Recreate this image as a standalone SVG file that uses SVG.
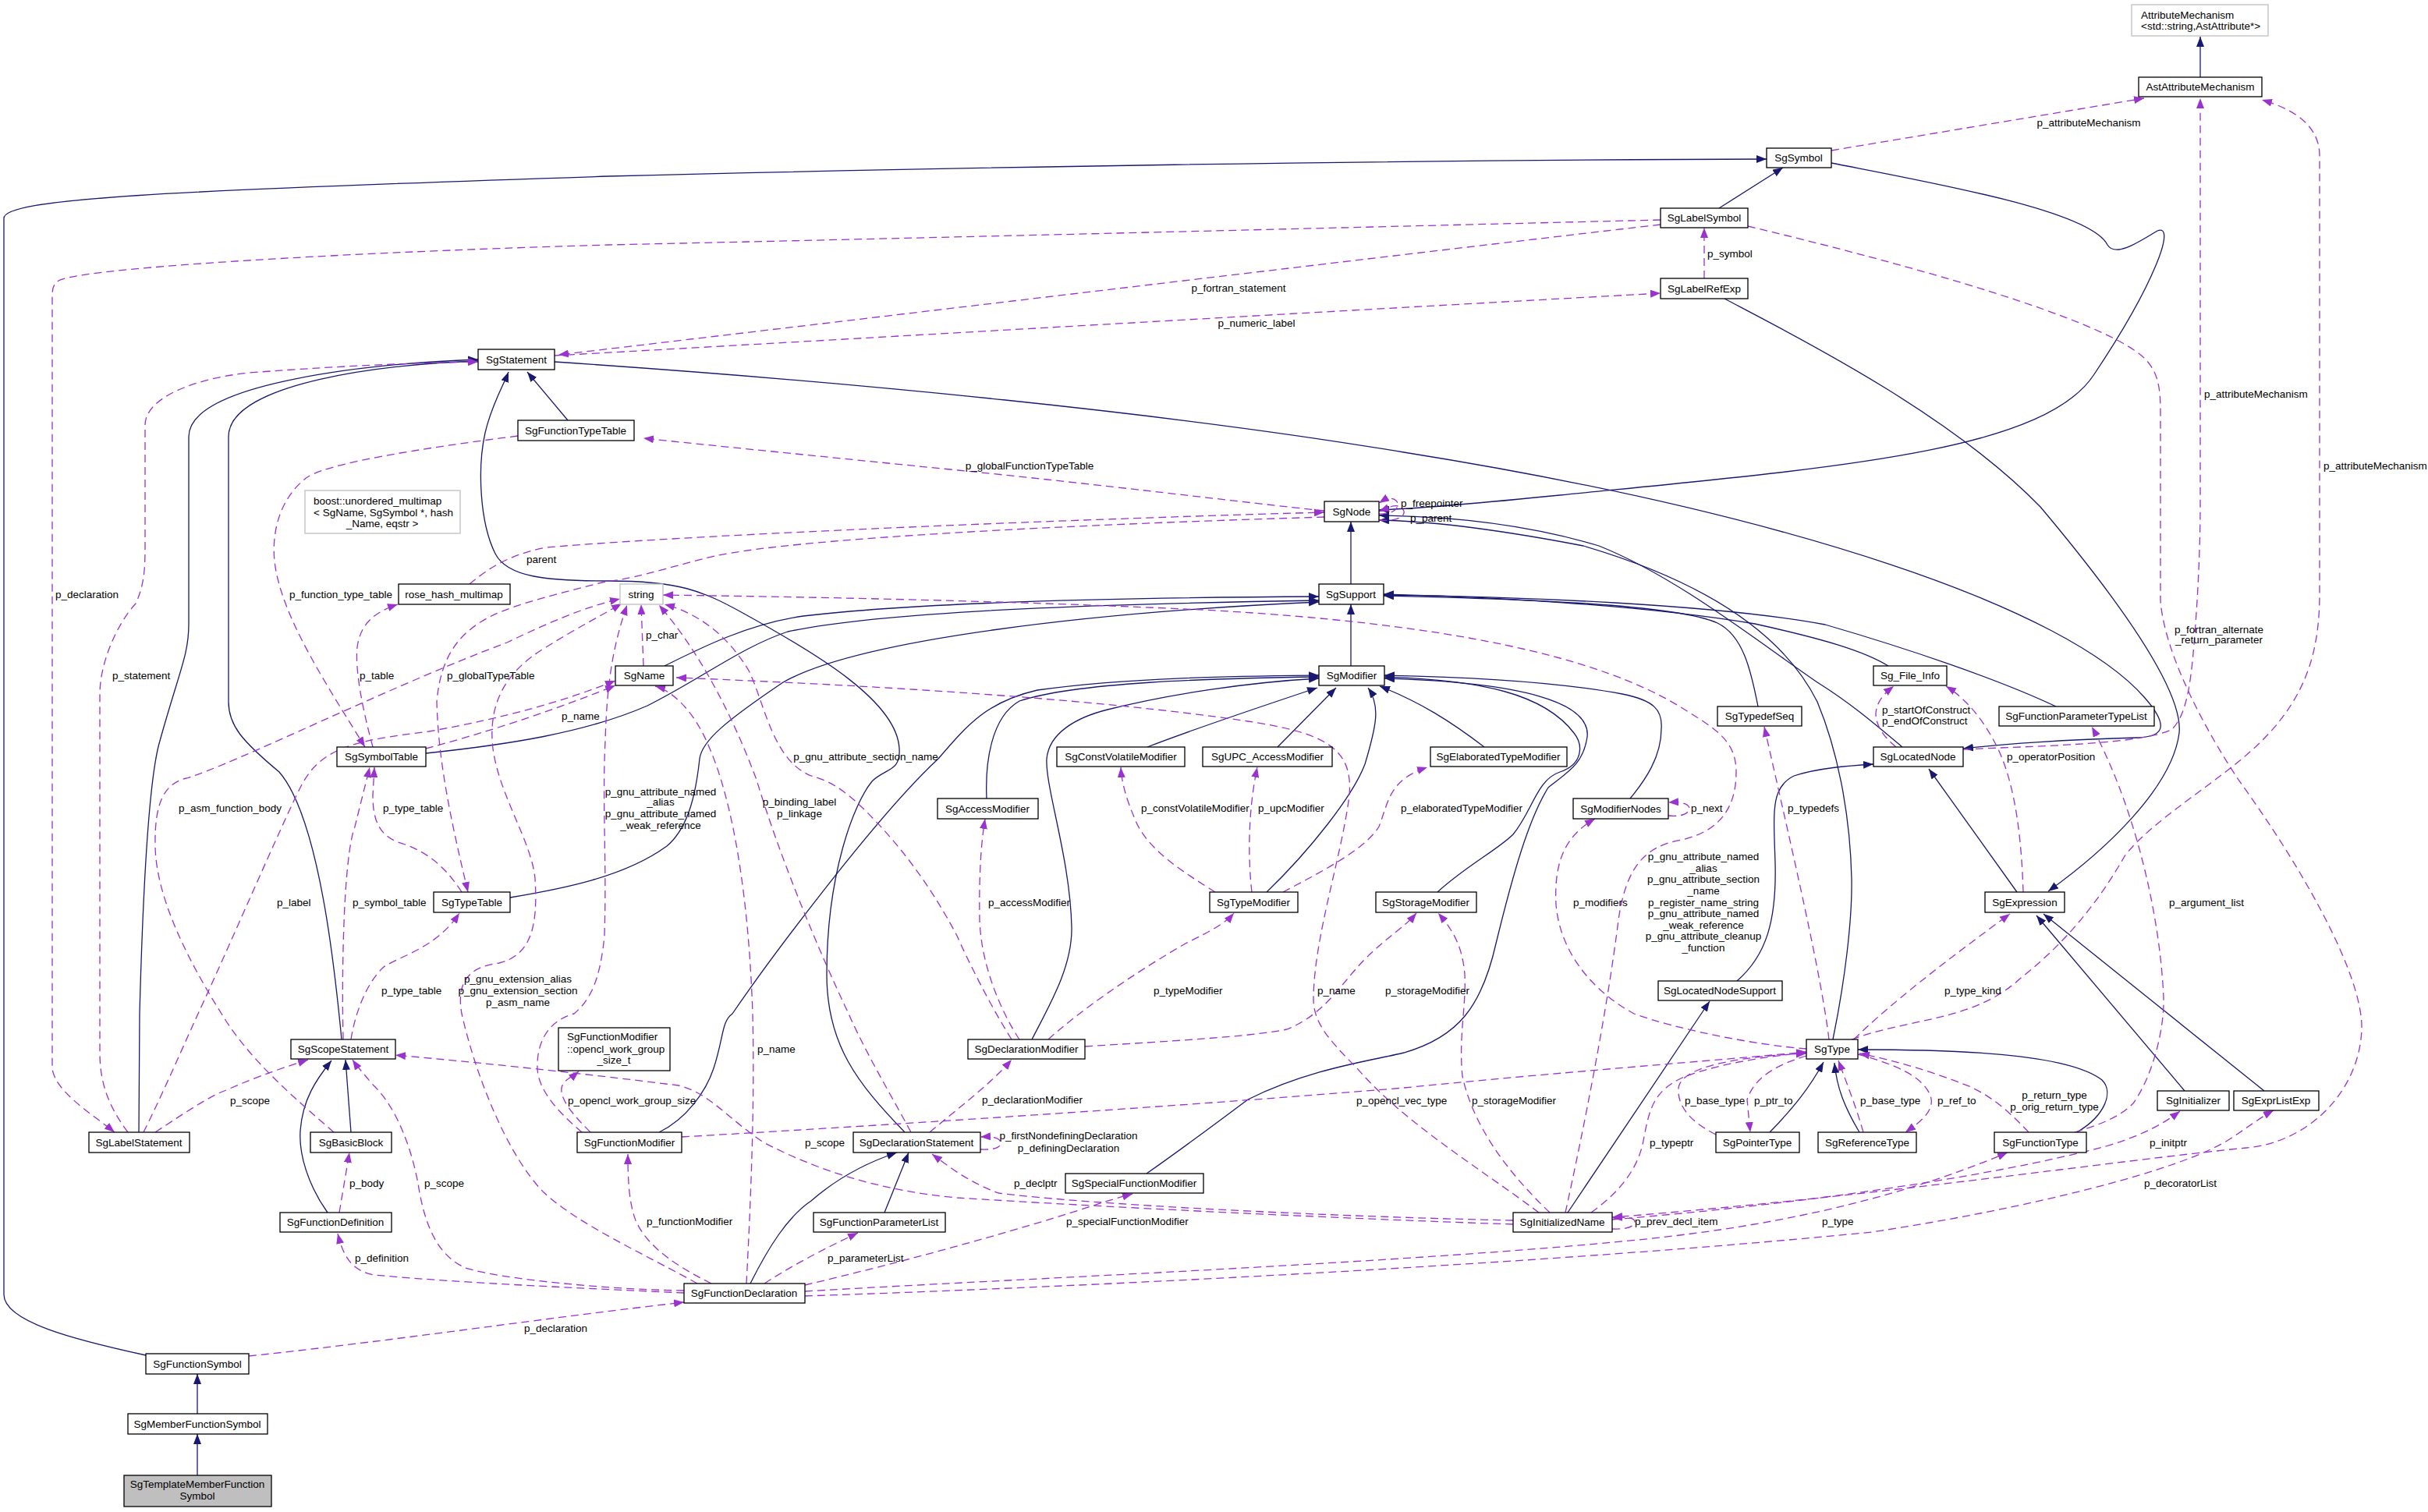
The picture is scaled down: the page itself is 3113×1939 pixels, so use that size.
<svg xmlns="http://www.w3.org/2000/svg" width="3113" height="1939" viewBox="0 0 3113 1939">
<style>
text{font-family:"Liberation Sans",Arial,sans-serif;font-size:13.5px;fill:#000}
.n rect{fill:#fff;stroke:#000;stroke-width:1.3}
.g rect{fill:#fff;stroke:#bfbfbf;stroke-width:1.3}
.h rect{fill:#bfbfbf;stroke:#000;stroke-width:1.3}
.n text,.g text,.h text{text-anchor:middle}
.i{fill:none;stroke:#191970;stroke-width:1.3;marker-end:url(#an)}
.c{fill:none;stroke:#9a32cd;stroke-width:1.3;stroke-dasharray:10,6;marker-end:url(#ap)}
.m{text-anchor:middle}
</style>
<defs>
<marker id="an" markerWidth="14" markerHeight="10" refX="13" refY="5" orient="auto" markerUnits="userSpaceOnUse"><path d="M0,0 L13,5 L0,10 z" fill="#191970"/></marker>
<marker id="ap" markerWidth="14" markerHeight="10" refX="13" refY="5" orient="auto" markerUnits="userSpaceOnUse"><path d="M0,0 L13,5 L0,10 z" fill="#9a32cd"/></marker>
</defs>
<rect width="3113" height="1939" fill="#fff"/>
<g id="edges">
<path class="i" d="M2821,99 L2821,47"/>
<path class="i" d="M2204,267 L2286,215"/>
<path class="i" d="M187,1738 C95,1718 5,1695 5,1660 L5,280 C5,255 200,245 780,226 C1200,215 1800,205 2265,204"/>
<path class="i" d="M253,1813 L253,1762"/>
<path class="i" d="M253,1892 L253,1839"/>
<path class="i" d="M2348,209 C2480,235 2680,270 2702,314 C2712,330 2740,312 2766,296 C2790,286 2765,360 2685,480 C2620,580 2350,600 2000,635 C1900,645 1820,652 1768,654"/>
<path class="i" d="M2211,383 C2300,430 2500,530 2616,650 C2700,750 2800,880 2794,940 C2785,1010 2700,1090 2626,1143"/>
<path class="i" d="M711,464 C1100,490 1500,530 1800,580 C2300,660 2650,780 2750,895 C2785,935 2770,945 2740,946 C2650,948 2560,955 2517,960"/>
<path class="i" d="M728,539 L676,477"/>
<path class="i" d="M438,1333 C430,1250 410,1050 358,990 C310,950 293,930 293,900 L293,560 C293,490 500,466 613,463"/>
<path class="i" d="M178,1452 L179,1300 C183,1150 190,1000 205,950 C230,860 242,840 242,800 L242,560 C242,490 480,466 613,461"/>
<path class="i" d="M1160,1452 C1100,1390 1060,1340 1060,1250 C1060,1120 1095,1030 1118,1002 C1135,985 1155,990 1153,960 C1150,900 1050,840 954,787 C900,757 870,745 780,745 C700,745 650,740 635,710 C615,670 612,600 622,555 C630,520 645,495 652,477"/>
<path class="i" d="M1732,749 L1732,669"/>
<path class="i" d="M1732,854 L1732,775"/>
<path class="i" d="M852,854 C900,830 960,800 1030,790 C1200,770 1500,766 1691,765"/>
<path class="i" d="M546,966 C650,955 750,940 830,905 C900,870 950,830 1010,810 C1150,780 1500,773 1691,770"/>
<path class="i" d="M654,1151 C720,1140 800,1125 855,1085 C885,1060 893,1010 897,973 C900,950 930,925 1004,875 C1100,820 1400,785 1691,772"/>
<path class="i" d="M2254,906 C2245,860 2235,815 2202,799 C2150,775 1950,768 1774,764"/>
<path class="i" d="M2421,854 C2390,835 2340,820 2250,800 C2100,775 1900,765 1774,762"/>
<path class="i" d="M2636,906 C2560,870 2440,830 2340,801 C2200,775 1950,765 1774,763"/>
<path class="i" d="M1265,1024 C1263,980 1270,920 1307,899 C1380,875 1550,870 1691,868"/>
<path class="i" d="M1471,958 C1530,935 1620,905 1689,882"/>
<path class="i" d="M1638,958 L1713,882"/>
<path class="i" d="M1903,958 C1860,925 1820,900 1769,880"/>
<path class="i" d="M1624,1144 C1680,1090 1735,1020 1750,980 C1765,930 1770,905 1754,882"/>
<path class="i" d="M1843,1144 C1880,1110 1920,1090 1940,1070 C1965,1040 1970,1000 2000,990 C2030,980 2030,955 2018,940 C1980,890 1900,872 1775,868"/>
<path class="i" d="M2090,1024 C2110,1000 2130,970 2130,935 C2132,910 2120,898 2080,890 C2000,875 1880,868 1775,866"/>
<path class="i" d="M1323,1333 C1345,1290 1375,1240 1374,1189 C1372,1100 1340,1010 1342,973 C1345,940 1380,920 1420,910 C1500,890 1600,875 1691,870"/>
<path class="i" d="M845,1452 C880,1435 905,1400 915,1370 C928,1330 925,1310 939,1300 C980,1240 1120,1050 1203,973 C1240,930 1265,900 1330,885 C1450,868 1600,867 1691,866"/>
<path class="i" d="M1470,1505 C1520,1470 1560,1440 1600,1410 C1680,1370 1760,1360 1800,1350 C1870,1330 1900,1290 1918,1210 C1940,1120 1960,1050 1985,1010 C2010,990 2030,980 2035,945 C2040,900 1950,875 1775,870"/>
<path class="i" d="M2227,1258 C2265,1225 2278,1180 2276,1106 C2274,1040 2270,1010 2300,995 C2330,985 2370,982 2402,980"/>
<path class="i" d="M2010,1555 L2192,1284"/>
<path class="i" d="M2439,958 C2400,925 2370,900 2330,875 C2250,820 2150,740 2050,700 C1950,670 1850,662 1768,661"/>
<path class="i" d="M2350,1333 C2365,1260 2375,1180 2374,1127 C2372,1040 2355,960 2330,900 C2290,820 2200,750 2030,700 C1900,675 1820,668 1768,667"/>
<path class="i" d="M2586,1144 L2473,986"/>
<path class="i" d="M2801,1399 L2611,1174"/>
<path class="i" d="M2903,1399 L2620,1172"/>
<path class="i" d="M2269,1452 C2300,1420 2320,1395 2338,1362"/>
<path class="i" d="M2384,1452 C2365,1420 2355,1395 2352,1363"/>
<path class="i" d="M2663,1452 C2700,1430 2710,1400 2695,1385 C2650,1350 2500,1346 2382,1346"/>
<path class="i" d="M450,1452 L443,1359"/>
<path class="i" d="M420,1555 C395,1520 383,1480 385,1450 C388,1410 405,1385 425,1360"/>
<path class="i" d="M962,1646 C985,1600 1010,1560 1040,1540 C1080,1505 1120,1488 1150,1478"/>
<path class="i" d="M1134,1555 L1165,1478"/>
<path class="c" d="M2348,193 L2749,126"/>
<path class="c" d="M2517,961 C2600,957 2750,955 2785,935 C2805,915 2810,870 2815,800 C2818,760 2821,700 2821,650 L2821,126"/>
<path class="c" d="M2374,1333 C2450,1305 2530,1310 2590,1255 C2660,1200 2700,1140 2724,1098 C2760,1050 2850,1000 2900,950 C2960,890 2974,830 2974,760 L2974,200 C2974,160 2940,140 2900,128"/>
<path class="c" d="M2241,290 C2450,340 2700,410 2750,460 C2768,478 2770,500 2770,530 L2770,770 C2775,840 2830,940 2870,1000 C2950,1110 3030,1250 3028,1320 C3025,1400 2960,1465 2880,1472 C2700,1490 2400,1535 2067,1561"/>
<path class="c" d="M2185,357 L2185,292"/>
<path class="c" d="M2129,288 C1800,326 1200,398 716,455"/>
<path class="c" d="M711,456 C1000,440 1600,405 2129,376"/>
<path class="c" d="M2129,282 C1800,290 1200,305 780,314 C400,325 100,345 75,360 C68,365 67,370 67,380 L67,1370 C70,1400 120,1430 147,1452"/>
<path class="c" d="M164,1452 C140,1420 128,1390 128,1350 L128,890 C128,850 150,800 174,774 C185,750 186,730 186,700 L186,545 C186,510 250,485 320,478 C450,468 550,465 613,464"/>
<path class="c" d="M184,1452 C210,1400 240,1330 254,1300 C300,1200 360,1060 385,1010 C410,960 450,950 550,938 C650,920 720,900 789,873"/>
<path class="c" d="M428,1452 C380,1410 320,1360 284,1300 C240,1230 200,1150 199,1085 C198,1030 210,1005 239,998 C300,980 500,880 650,824 C700,800 750,778 795,768"/>
<path class="c" d="M664,559 C540,575 410,595 390,615 C360,640 348,680 352,720 C360,790 420,880 468,958"/>
<path class="c" d="M478,958 C465,910 455,860 458,830 C462,800 480,785 510,775"/>
<path class="c" d="M602,749 C625,730 650,712 700,702 C900,685 1400,665 1698,657"/>
<path class="c" d="M1698,655 C1600,645 1400,620 1228,603 C1050,585 900,570 825,562"/>
<path class="c" d="M1698,663 C1400,672 1000,690 904,716 C850,730 800,745 780,745 C720,760 660,775 630,790 C590,810 565,840 560,900 C562,980 580,1060 600,1144"/>
<path class="c" d="M546,960 C620,940 700,915 789,879"/>
<path class="c" d="M592,1144 C570,1110 545,1090 510,1080 C485,1070 478,1050 478,1020 L480,984"/>
<path class="c" d="M440,1333 C438,1250 440,1100 455,1060 C465,1020 470,1000 474,984"/>
<path class="c" d="M450,1333 C455,1300 470,1260 492,1240 C515,1225 560,1215 589,1171"/>
<path class="c" d="M199,1452 C240,1425 270,1405 290,1398 C330,1380 370,1367 395,1359"/>
<path class="c" d="M435,1555 L448,1478"/>
<path class="c" d="M877,1655 C780,1654 640,1640 597,1626 C560,1610 545,1570 537,1524 C530,1480 510,1420 477,1390 C465,1375 458,1368 452,1359"/>
<path class="c" d="M877,1658 C750,1652 600,1646 480,1635 C450,1630 440,1610 433,1582"/>
<path class="c" d="M319,1739 C500,1720 700,1690 877,1670"/>
<path class="c" d="M912,1646 C870,1625 830,1600 815,1565 C805,1540 805,1500 805,1480"/>
<path class="c" d="M957,1646 C962,1550 968,1420 965,1300 C960,1150 940,1030 910,960 C890,910 860,885 840,880"/>
<path class="c" d="M980,1646 C1020,1620 1060,1600 1100,1581"/>
<path class="c" d="M1032,1648 C1150,1620 1300,1580 1420,1540 L1452,1531"/>
<path class="c" d="M1032,1656 C1300,1640 1800,1620 2100,1590 C2300,1570 2450,1530 2574,1478"/>
<path class="c" d="M1032,1662 C1400,1650 2000,1620 2400,1580 C2600,1550 2800,1500 2860,1460 C2890,1440 2900,1432 2915,1424"/>
<path class="c" d="M2067,1564 C2300,1545 2550,1510 2700,1470 C2750,1455 2775,1440 2795,1425"/>
<path class="c" d="M2067,1576 C2090,1577 2096,1571 2096,1567 C2096,1562 2088,1560 2067,1562"/>
<path class="c" d="M2040,1555 C2075,1530 2100,1500 2107,1463 C2115,1420 2120,1400 2157,1382 C2200,1365 2260,1355 2316,1350"/>
<path class="c" d="M1940,1565 C1700,1560 1400,1545 1280,1530 C1240,1515 1215,1495 1195,1480"/>
<path class="c" d="M1940,1570 C1700,1562 1400,1547 1227,1536 C1130,1527 1050,1502 979,1465 C930,1432 910,1402 870,1392 C750,1377 620,1363 507,1353"/>
<path class="c" d="M1987,1555 C1940,1510 1890,1450 1875,1380 C1870,1330 1880,1290 1878,1250 C1875,1210 1860,1190 1844,1171"/>
<path class="c" d="M1391,1342 C1500,1335 1600,1330 1650,1320 C1700,1300 1720,1260 1750,1230 C1780,1200 1800,1190 1816,1171"/>
<path class="c" d="M1973,1555 C1900,1500 1800,1440 1740,1370 C1700,1330 1684,1310 1684,1280 C1685,1200 1720,1100 1730,1020 C1735,960 1700,940 1600,925 C1400,895 1100,878 867,869"/>
<path class="c" d="M2007,1555 C2030,1450 2060,1300 2075,1180 C2085,1110 2110,1085 2156,1077 C2210,1065 2226,1030 2226,990 C2226,950 2200,935 2160,910 C2050,840 1850,800 1560,783 C1300,770 1000,765 850,763"/>
<path class="c" d="M2316,1345 C2250,1340 2150,1320 2095,1300 C2040,1270 2000,1220 1995,1160 C1992,1100 2010,1070 2045,1050"/>
<path class="c" d="M2345,1333 C2335,1250 2300,1100 2262,932"/>
<path class="c" d="M2377,1333 C2410,1300 2470,1250 2577,1172"/>
<path class="c" d="M2660,1452 C2700,1440 2720,1430 2735,1415 C2760,1380 2775,1320 2774,1280 C2770,1180 2740,1040 2682,932"/>
<path class="c" d="M2601,1452 C2580,1430 2560,1410 2527,1394 C2480,1375 2430,1360 2384,1351"/>
<path class="c" d="M2200,1455 C2170,1440 2150,1420 2152,1395 C2155,1370 2220,1355 2316,1351"/>
<path class="c" d="M2316,1354 C2280,1365 2250,1380 2240,1410 L2244,1452"/>
<path class="c" d="M2389,1452 C2380,1420 2368,1390 2357,1360"/>
<path class="c" d="M2382,1352 C2430,1365 2465,1380 2475,1405 C2482,1425 2460,1440 2443,1452"/>
<path class="c" d="M2139,1046 C2160,1048 2166,1041 2166,1037 C2166,1031 2156,1028 2139,1029"/>
<path class="c" d="M1605,1144 C1600,1100 1600,1040 1612,984"/>
<path class="c" d="M1558,1144 C1520,1120 1470,1090 1455,1050 C1442,1020 1438,1000 1437,984"/>
<path class="c" d="M1645,1144 C1690,1120 1750,1090 1768,1060 C1780,1030 1780,1000 1830,984"/>
<path class="c" d="M1344,1333 C1380,1300 1450,1250 1520,1210 C1550,1195 1570,1185 1582,1171"/>
<path class="c" d="M1307,1333 C1285,1300 1258,1240 1256,1180 C1255,1120 1258,1080 1263,1050"/>
<path class="c" d="M1297,1333 C1270,1290 1240,1230 1227,1200 C1190,1130 1150,1080 1110,1040 C1080,1010 1060,1000 1040,995 C990,975 980,900 960,860 C930,810 890,785 852,775"/>
<path class="c" d="M1168,1452 C1140,1400 1110,1350 1088,1300 C1050,1220 1000,1100 970,1000 C940,920 900,840 845,776"/>
<path class="c" d="M894,1646 C830,1610 740,1570 696,1528 C650,1480 610,1380 592,1300 C585,1260 600,1240 640,1235 C680,1225 690,1190 686,1127 C682,1080 640,1020 632,960 C625,900 650,860 700,830 C740,805 770,790 797,774"/>
<path class="c" d="M746,1452 C720,1430 690,1400 689,1370 C688,1340 700,1310 736,1300 C760,1280 770,1250 775,1200 C778,1100 772,1030 776,950 C778,880 785,830 804,776"/>
<path class="c" d="M757,1452 C735,1430 718,1410 720,1395 C722,1385 735,1380 742,1374"/>
<path class="c" d="M874,1458 C1100,1445 1500,1420 1800,1395 C2000,1375 2200,1360 2316,1349"/>
<path class="c" d="M1192,1452 C1230,1420 1270,1390 1297,1359"/>
<path class="c" d="M1257,1474 C1275,1475 1283,1471 1283,1466 C1283,1460 1275,1457 1257,1458"/>
<path class="c" d="M1768,659 C1790,660 1796,648 1790,642 C1785,637 1776,640 1768,645"/>
<path class="c" d="M1768,667 C1800,670 1806,656 1795,650 C1788,646 1778,652 1768,656"/>
<path class="c" d="M2594,1144 C2592,1080 2585,1010 2562,961 C2545,925 2520,895 2495,880"/>
<path class="c" d="M2431,958 C2415,945 2405,930 2405,915 C2406,900 2415,890 2428,880"/>
<path class="c" d="M825,854 L822,775"/>
</g>
<g id="edge-labels">
<text x="2678" y="162" class="m">p_attributeMechanism</text>
<text x="2826" y="510">p_attributeMechanism</text>
<text x="2979" y="602">p_attributeMechanism</text>
<text x="2845" y="812" class="m">p_fortran_alternate</text>
<text x="2845" y="825" class="m">_return_parameter</text>
<text x="2189" y="330">p_symbol</text>
<text x="1588" y="374" class="m">p_fortran_statement</text>
<text x="1611" y="419" class="m">p_numeric_label</text>
<text x="1320" y="602" class="m">p_globalFunctionTypeTable</text>
<text x="1796" y="650">p_freepointer</text>
<text x="1808" y="669">p_parent</text>
<text x="71" y="767">p_declaration</text>
<text x="144" y="871">p_statement</text>
<text x="371" y="767">p_function_type_table</text>
<text x="675" y="722">parent</text>
<text x="461" y="871">p_table</text>
<text x="573" y="871">p_globalTypeTable</text>
<text x="720" y="923">p_name</text>
<text x="229" y="1041">p_asm_function_body</text>
<text x="491" y="1041">p_type_table</text>
<text x="355" y="1162">p_label</text>
<text x="452" y="1162">p_symbol_table</text>
<text x="489" y="1275">p_type_table</text>
<text x="664" y="1260" class="m">p_gnu_extension_alias</text>
<text x="664" y="1275" class="m">p_gnu_extension_section</text>
<text x="664" y="1290" class="m">p_asm_name</text>
<text x="828" y="819">p_char</text>
<text x="847" y="1020" class="m">p_gnu_attribute_named</text>
<text x="847" y="1033" class="m">_alias</text>
<text x="847" y="1048" class="m">p_gnu_attribute_named</text>
<text x="847" y="1063" class="m">_weak_reference</text>
<text x="1110" y="975" class="m">p_gnu_attribute_section_name</text>
<text x="1025" y="1033" class="m">p_binding_label</text>
<text x="1025" y="1048" class="m">p_linkage</text>
<text x="1267" y="1162">p_accessModifier</text>
<text x="1463" y="1041">p_constVolatileModifier</text>
<text x="1479" y="1275">p_typeModifier</text>
<text x="1613" y="1041">p_upcModifier</text>
<text x="1796" y="1041">p_elaboratedTypeModifier</text>
<text x="2168" y="1041">p_next</text>
<text x="2017" y="1162">p_modifiers</text>
<text x="2184" y="1103" class="m">p_gnu_attribute_named</text>
<text x="2184" y="1118" class="m">_alias</text>
<text x="2184" y="1132" class="m">p_gnu_attribute_section</text>
<text x="2184" y="1147" class="m">_name</text>
<text x="2184" y="1162" class="m">p_register_name_string</text>
<text x="2184" y="1176" class="m">p_gnu_attribute_named</text>
<text x="2184" y="1191" class="m">_weak_reference</text>
<text x="2184" y="1205" class="m">p_gnu_attribute_cleanup</text>
<text x="2184" y="1220" class="m">_function</text>
<text x="2292" y="1041">p_typedefs</text>
<text x="1689" y="1275">p_name</text>
<text x="1776" y="1275">p_storageModifier</text>
<text x="2413" y="915">p_startOfConstruct</text>
<text x="2413" y="929">p_endOfConstruct</text>
<text x="2573" y="975">p_operatorPosition</text>
<text x="2781" y="1162">p_argument_list</text>
<text x="2493" y="1275">p_type_kind</text>
<text x="295" y="1416">p_scope</text>
<text x="448" y="1522">p_body</text>
<text x="544" y="1522">p_scope</text>
<text x="455" y="1618">p_definition</text>
<text x="672" y="1708">p_declaration</text>
<text x="728" y="1416">p_opencl_work_group_size</text>
<text x="971" y="1350">p_name</text>
<text x="1259" y="1415">p_declarationModifier</text>
<text x="1032" y="1470">p_scope</text>
<text x="1370" y="1461" class="m">p_firstNondefiningDeclaration</text>
<text x="1370" y="1477" class="m">p_definingDeclaration</text>
<text x="1300" y="1522">p_declptr</text>
<text x="829" y="1571">p_functionModifier</text>
<text x="1367" y="1571">p_specialFunctionModifier</text>
<text x="1061" y="1618">p_parameterList</text>
<text x="1739" y="1416">p_opencl_vec_type</text>
<text x="1887" y="1416">p_storageModifier</text>
<text x="2160" y="1416">p_base_type</text>
<text x="2249" y="1416">p_ptr_to</text>
<text x="2115" y="1470">p_typeptr</text>
<text x="2096" y="1571">p_prev_decl_item</text>
<text x="2336" y="1571">p_type</text>
<text x="2385" y="1416">p_base_type</text>
<text x="2484" y="1416">p_ref_to</text>
<text x="2634" y="1409" class="m">p_return_type</text>
<text x="2634" y="1424" class="m">p_orig_return_type</text>
<text x="2756" y="1470">p_initptr</text>
<text x="2749" y="1522">p_decoratorList</text>
</g>
<g id="n_AttributeMechanism" class="g"><rect x="2733" y="6" width="175" height="40"/><text x="2745" y="24" style="text-anchor:start">AttributeMechanism</text><text x="2745" y="38" style="text-anchor:start">&lt;std::string,AstAttribute*&gt;</text></g>
<g id="n_AstAttributeMechanism" class="n"><rect x="2742" y="99" width="158" height="25"/><text x="2821" y="116">AstAttributeMechanism</text></g>
<g id="n_SgSymbol" class="n"><rect x="2265" y="190" width="83" height="25"/><text x="2306" y="207">SgSymbol</text></g>
<g id="n_SgLabelSymbol" class="n"><rect x="2129" y="267" width="112" height="25"/><text x="2185" y="284">SgLabelSymbol</text></g>
<g id="n_SgLabelRefExp" class="n"><rect x="2129" y="357" width="112" height="26"/><text x="2185" y="375">SgLabelRefExp</text></g>
<g id="n_SgStatement" class="n"><rect x="613" y="448" width="98" height="26"/><text x="662" y="466">SgStatement</text></g>
<g id="n_SgFunctionTypeTable" class="n"><rect x="664" y="539" width="149" height="26"/><text x="738" y="557">SgFunctionTypeTable</text></g>
<g id="n_boost_unordered_multimap" class="g"><rect x="391" y="629" width="199" height="55"/><text x="402" y="647" style="text-anchor:start">boost::unordered_multimap</text><text x="402" y="662" style="text-anchor:start">&lt; SgName, SgSymbol *, hash</text><text x="490" y="676">_Name, eqstr &gt;</text></g>
<g id="n_SgNode" class="n"><rect x="1698" y="643" width="70" height="26"/><text x="1733" y="661">SgNode</text></g>
<g id="n_rose_hash_multimap" class="n"><rect x="511" y="749" width="143" height="26"/><text x="582" y="767">rose_hash_multimap</text></g>
<g id="n_string" class="g"><rect x="795" y="749" width="55" height="26"/><text x="822" y="767">string</text></g>
<g id="n_SgSupport" class="n"><rect x="1691" y="749" width="83" height="26"/><text x="1732" y="767">SgSupport</text></g>
<g id="n_SgName" class="n"><rect x="789" y="854" width="74" height="25"/><text x="826" y="871">SgName</text></g>
<g id="n_SgModifier" class="n"><rect x="1691" y="854" width="84" height="25"/><text x="1733" y="871">SgModifier</text></g>
<g id="n_Sg_File_Info" class="n"><rect x="2402" y="854" width="94" height="25"/><text x="2449" y="871">Sg_File_Info</text></g>
<g id="n_SgTypedefSeq" class="n"><rect x="2202" y="906" width="108" height="25"/><text x="2256" y="923">SgTypedefSeq</text></g>
<g id="n_SgFunctionParameterTypeList" class="n"><rect x="2563" y="906" width="199" height="25"/><text x="2662" y="923">SgFunctionParameterTypeList</text></g>
<g id="n_SgSymbolTable" class="n"><rect x="432" y="958" width="114" height="25"/><text x="489" y="975">SgSymbolTable</text></g>
<g id="n_SgConstVolatileModifier" class="n"><rect x="1355" y="958" width="164" height="25"/><text x="1437" y="975">SgConstVolatileModifier</text></g>
<g id="n_SgUPC_AccessModifier" class="n"><rect x="1542" y="958" width="166" height="25"/><text x="1625" y="975">SgUPC_AccessModifier</text></g>
<g id="n_SgElaboratedTypeModifier" class="n"><rect x="1834" y="958" width="175" height="25"/><text x="1921" y="975">SgElaboratedTypeModifier</text></g>
<g id="n_SgLocatedNode" class="n"><rect x="2402" y="958" width="115" height="25"/><text x="2459" y="975">SgLocatedNode</text></g>
<g id="n_SgAccessModifier" class="n"><rect x="1202" y="1024" width="129" height="26"/><text x="1266" y="1042">SgAccessModifier</text></g>
<g id="n_SgModifierNodes" class="n"><rect x="2017" y="1024" width="122" height="26"/><text x="2078" y="1042">SgModifierNodes</text></g>
<g id="n_SgTypeTable" class="n"><rect x="556" y="1144" width="98" height="26"/><text x="605" y="1162">SgTypeTable</text></g>
<g id="n_SgTypeModifier" class="n"><rect x="1551" y="1144" width="113" height="26"/><text x="1607" y="1162">SgTypeModifier</text></g>
<g id="n_SgStorageModifier" class="n"><rect x="1764" y="1144" width="129" height="26"/><text x="1828" y="1162">SgStorageModifier</text></g>
<g id="n_SgExpression" class="n"><rect x="2545" y="1144" width="102" height="26"/><text x="2596" y="1162">SgExpression</text></g>
<g id="n_SgLocatedNodeSupport" class="n"><rect x="2126" y="1258" width="159" height="25"/><text x="2205" y="1275">SgLocatedNodeSupport</text></g>
<g id="n_SgScopeStatement" class="n"><rect x="373" y="1333" width="134" height="25"/><text x="440" y="1350">SgScopeStatement</text></g>
<g id="n_opencl_work_group_size_t" class="n"><rect x="716" y="1318" width="143" height="55"/><text x="727" y="1334" style="text-anchor:start">SgFunctionModifier</text><text x="727" y="1350" style="text-anchor:start">::opencl_work_group</text><text x="787" y="1364">_size_t</text></g>
<g id="n_SgDeclarationModifier" class="n"><rect x="1241" y="1333" width="150" height="25"/><text x="1316" y="1350">SgDeclarationModifier</text></g>
<g id="n_SgType" class="n"><rect x="2316" y="1333" width="66" height="25"/><text x="2349" y="1350">SgType</text></g>
<g id="n_SgInitializer" class="n"><rect x="2766" y="1399" width="92" height="25"/><text x="2812" y="1416">SgInitializer</text></g>
<g id="n_SgExprListExp" class="n"><rect x="2864" y="1399" width="109" height="25"/><text x="2918" y="1416">SgExprListExp</text></g>
<g id="n_SgLabelStatement" class="n"><rect x="114" y="1452" width="129" height="26"/><text x="178" y="1470">SgLabelStatement</text></g>
<g id="n_SgBasicBlock" class="n"><rect x="398" y="1452" width="104" height="26"/><text x="450" y="1470">SgBasicBlock</text></g>
<g id="n_SgFunctionModifier" class="n"><rect x="740" y="1452" width="134" height="26"/><text x="807" y="1470">SgFunctionModifier</text></g>
<g id="n_SgDeclarationStatement" class="n"><rect x="1094" y="1452" width="163" height="26"/><text x="1175" y="1470">SgDeclarationStatement</text></g>
<g id="n_SgPointerType" class="n"><rect x="2200" y="1452" width="107" height="26"/><text x="2253" y="1470">SgPointerType</text></g>
<g id="n_SgReferenceType" class="n"><rect x="2331" y="1452" width="126" height="26"/><text x="2394" y="1470">SgReferenceType</text></g>
<g id="n_SgFunctionType" class="n"><rect x="2557" y="1452" width="118" height="26"/><text x="2616" y="1470">SgFunctionType</text></g>
<g id="n_SgSpecialFunctionModifier" class="n"><rect x="1366" y="1505" width="177" height="25"/><text x="1454" y="1522">SgSpecialFunctionModifier</text></g>
<g id="n_SgFunctionDefinition" class="n"><rect x="359" y="1555" width="143" height="25"/><text x="430" y="1572">SgFunctionDefinition</text></g>
<g id="n_SgFunctionParameterList" class="n"><rect x="1043" y="1555" width="169" height="25"/><text x="1127" y="1572">SgFunctionParameterList</text></g>
<g id="n_SgInitializedName" class="n"><rect x="1940" y="1555" width="127" height="25"/><text x="2003" y="1572">SgInitializedName</text></g>
<g id="n_SgFunctionDeclaration" class="n"><rect x="877" y="1646" width="155" height="25"/><text x="954" y="1663">SgFunctionDeclaration</text></g>
<g id="n_SgFunctionSymbol" class="n"><rect x="187" y="1736" width="132" height="26"/><text x="253" y="1754">SgFunctionSymbol</text></g>
<g id="n_SgMemberFunctionSymbol" class="n"><rect x="164" y="1813" width="179" height="26"/><text x="253" y="1831">SgMemberFunctionSymbol</text></g>
<g id="n_SgTemplateMemberFunctionSymbol" class="h"><rect x="159" y="1892" width="189" height="40"/><text x="253" y="1908">SgTemplateMemberFunction</text><text x="253" y="1923">Symbol</text></g>
</svg>
